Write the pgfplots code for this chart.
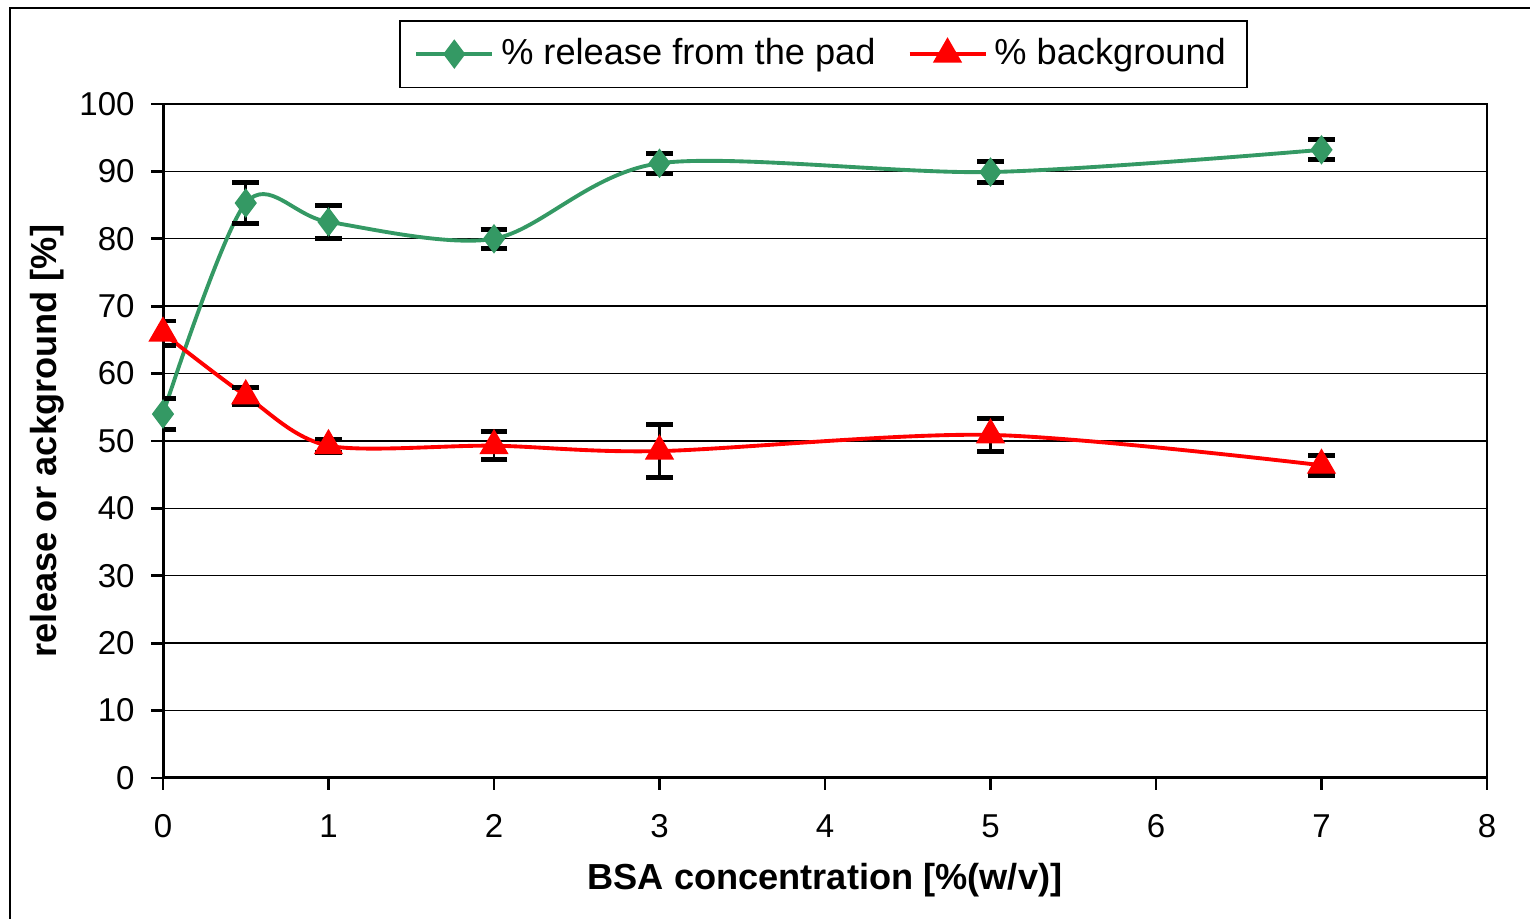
\documentclass[border=0pt]{standalone}
\usepackage{fontspec}
\setmainfont{Liberation Sans}
\usepackage{pgfplots}
\pgfplotsset{compat=1.18}
\definecolor{relgreen}{RGB}{52,153,100}
\definecolor{bgred}{RGB}{255,0,0}

\begin{document}
\begin{tikzpicture}
\useasboundingbox (0,0) rectangle (15.30,9.19);
% chart area border (only left and top visible in the reference)
\draw[line width=0.6pt] (0.10,0) -- (0.10,9.11) -- (15.30,9.11);
\begin{axis}[
    at={(1.63cm,1.41cm)}, anchor=south west,
    scale only axis,
    width=13.24cm, height=6.74cm,
    xmin=0, xmax=8, ymin=0, ymax=100,
    xtick={0,1,...,8}, ytick={0,10,...,100},
    xtick pos=bottom, ytick pos=left,
    tick align=outside,
    major tick length=0.12cm,
    tick style={black, line width=0.8pt},
    ymajorgrids,
    grid style={black, line width=0.4pt},
    axis line style={line width=0.5pt},
    /pgf/number format/assume math mode=true,
    tick label style={font=\fontsize{9.4}{11}\selectfont},
    xticklabel style={yshift=-0.12cm},
    yticklabel style={xshift=-0.04cm},
    label style={font=\fontsize{10.3}{12}\selectfont\bfseries},
    xlabel={BSA concentration [\%(w/v)]},
    ylabel={release or ackground [\%]},
    xlabel style={at={(axis description cs:0.5,-0.151)}, anchor=center},
    ylabel style={at={(axis description cs:-0.0876,0.5)}, anchor=center},
    legend columns=2,
    legend style={at={(axis description cs:0.499,1.074)}, anchor=center,
        draw=black, line width=0.5pt, font=\fontsize{10.3}{12}\selectfont,
        inner xsep=4pt, inner ysep=3pt,
        /tikz/every even column/.append style={column sep=0.25cm}},
    legend image code/.code={\draw[mark repeat=2,mark phase=2] plot coordinates {(0cm,0cm) (0.38cm,0cm) (0.76cm,0cm)};},
    error bars/error bar style={black, line width=0.8pt},
    error bars/error mark options={black, line width=1.4pt, mark size=3.8pt, rotate=90},
]
\addplot[relgreen, line width=1.1pt, smooth, tension=0.5,
    mark=diamond*, mark size=3.3pt, mark options={solid, fill=relgreen},
    error bars/.cd, y dir=both, y explicit]
  coordinates {
    (0,54.0) +- (0,2.3)
    (0.5,85.3) +- (0,3.0)
    (1,82.5) +- (0,2.4)
    (2,80.0) +- (0,1.4)
    (3,91.2) +- (0,1.5)
    (5,89.9) +- (0,1.6)
    (7,93.2) +- (0,1.5)
  };
\addlegendentry{\% release from the pad}
\addplot[bgred, line width=1.1pt, smooth, tension=0.5,
    mark=triangle*, mark size=3.7pt, mark options={solid, fill=bgred},
    error bars/.cd, y dir=both, y explicit]
  coordinates {
    (0,66.0) +- (0,1.8)
    (0.5,56.7) +- (0,1.3)
    (1,49.3) +- (0,1.0)
    (2,49.3) +- (0,2.1)
    (3,48.5) +- (0,3.9)
    (5,50.9) +- (0,2.5)
    (7,46.4) +- (0,1.5)
  };
\addlegendentry{\% background}
% heavier left and bottom axis lines
\draw[black, line width=1.3pt] (rel axis cs:0,1) -- (rel axis cs:0,0) -- (rel axis cs:1,0);
\end{axis}
\end{tikzpicture}
\end{document}
